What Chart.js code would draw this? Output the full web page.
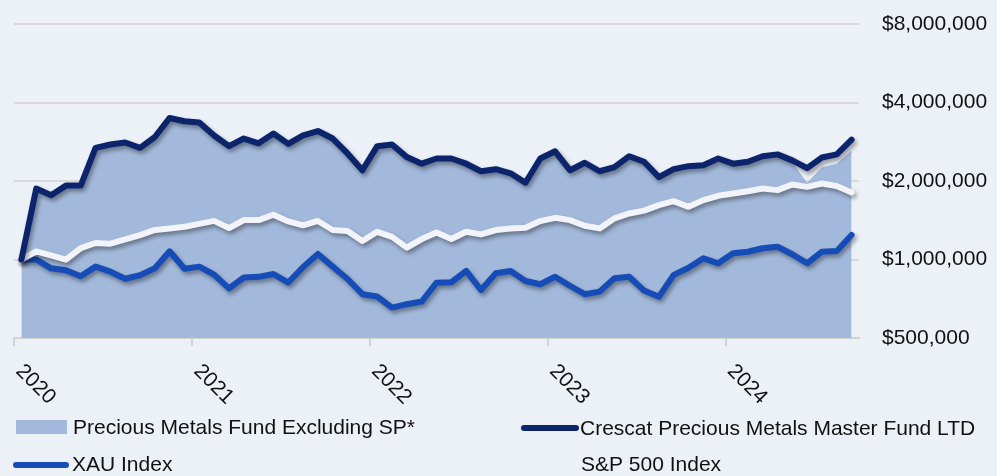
<!DOCTYPE html>
<html>
<head>
<meta charset="utf-8">
<script src="https://cdn.jsdelivr.net/npm/chart.js@4.4.1/dist/chart.umd.min.js"></script>
<style>
  html, body { margin: 0; padding: 0; background: #ECF0F7; }
</style>
</head>
<body>
<canvas id="grafico" width="997" height="476"></canvas>
<script>
  // Meses (jan/2020 a set/2024)
  const months = [
    "2020-01", "2020-02", "2020-03", "2020-04", "2020-05", "2020-06", "2020-07", "2020-08", "2020-09", "2020-10", "2020-11", "2020-12",
    "2021-01", "2021-02", "2021-03", "2021-04", "2021-05", "2021-06", "2021-07", "2021-08", "2021-09", "2021-10", "2021-11", "2021-12",
    "2022-01", "2022-02", "2022-03", "2022-04", "2022-05", "2022-06", "2022-07", "2022-08", "2022-09", "2022-10", "2022-11", "2022-12",
    "2023-01", "2023-02", "2023-03", "2023-04", "2023-05", "2023-06", "2023-07", "2023-08", "2023-09", "2023-10", "2023-11", "2023-12",
    "2024-01", "2024-02", "2024-03", "2024-04", "2024-05", "2024-06", "2024-07", "2024-08", "2024-09",
  ];

  const fundExSP = [
    1000000, 1870000, 1765000, 1920000, 1920000, 2680000, 2760000, 2810000, 2680000, 2950000, 3490000, 3390000,
    3350000, 2990000, 2720000, 2910000, 2790000, 3040000, 2775000, 2990000, 3110000, 2910000, 2550000, 2200000,
    2720000, 2760000, 2470000, 2330000, 2440000, 2440000, 2330000, 2180000, 2220000, 2140000, 1970000, 2440000,
    2600000, 2200000, 2350000, 2180000, 2260000, 2490000, 2370000, 2070000, 2220000, 2280000, 2300000, 2440000,
    2330000, 2370000, 2490000, 2500000, 2360000, 1970000, 2260000, 2330000, 2620000,
  ];

  const crescat = [
    1000000, 1870000, 1765000, 1920000, 1920000, 2680000, 2760000, 2810000, 2680000, 2950000, 3490000, 3390000,
    3350000, 2990000, 2720000, 2910000, 2790000, 3040000, 2775000, 2990000, 3110000, 2910000, 2550000, 2200000,
    2720000, 2760000, 2470000, 2330000, 2440000, 2440000, 2330000, 2180000, 2220000, 2140000, 1970000, 2440000,
    2600000, 2200000, 2350000, 2180000, 2260000, 2490000, 2370000, 2070000, 2220000, 2280000, 2300000, 2440000,
    2330000, 2370000, 2490000, 2530000, 2400000, 2240000, 2460000, 2530000, 2880000,
  ];

  const xau = [
    1000000, 1000000, 925000, 910000, 863000, 939000, 898000, 844000, 870000, 925000, 1075000, 922000,
    939000, 875000, 775000, 853000, 858000, 880000, 816000, 935000, 1050000, 939000, 842000, 736000,
    721000, 654000, 674000, 690000, 815000, 818000, 904000, 764000, 886000, 904000, 827000, 804000,
    859000, 793000, 736000, 753000, 847000, 859000, 760000, 720000, 873000, 930000, 1010000, 967000,
    1056000, 1071000, 1104000, 1119000, 1047000, 967000, 1071000, 1078000, 1241000,
  ];

  const sp500 = [
    1000000, 1075000, 1037000, 998000, 1105000, 1157000, 1150000, 1195000, 1241000, 1298000, 1315000, 1335000,
    1370000, 1406000, 1320000, 1416000, 1416000, 1485000, 1400000, 1352000, 1405000, 1297000, 1285000, 1177000,
    1277000, 1222000, 1110000, 1198000, 1270000, 1198000, 1277000, 1248000, 1297000, 1316000, 1323000, 1404000,
    1445000, 1416000, 1347000, 1316000, 1438000, 1502000, 1540000, 1616000, 1674000, 1592000, 1689000, 1755000,
    1792000, 1828000, 1872000, 1845000, 1940000, 1899000, 1957000, 1915000, 1808000,
  ];

  const yTicks = [500000, 1000000, 2000000, 4000000, 8000000];

  const nomes = [
    "Precious Metals Fund Excluding SP*",
    "Crescat Precious Metals Master Fund LTD",
    "XAU Index",
    "S&P 500 Index",
  ];

  const fonte = "'Liberation Sans', Arial, sans-serif";

  // Sombra nas linhas
  const sombra = {
    id: "sombra",
    beforeDatasetDraw(chart, args) {
      if (!chart.data.datasets[args.index].sombra) return;
      const ctx = chart.ctx;
      ctx.save();
      ctx.shadowColor = "rgba(0, 0, 0, 0.38)";
      ctx.shadowBlur = 4;
      ctx.shadowOffsetX = 2;
      ctx.shadowOffsetY = 3;
    },
    afterDatasetDraw(chart, args) {
      if (chart.data.datasets[args.index].sombra) chart.ctx.restore();
    },
  };

  // Anos inclinados embaixo do eixo
  const rotulosAno = {
    id: "rotulosAno",
    afterDraw(chart) {
      const ctx = chart.ctx;
      const x = chart.scales.x;
      const meio = (x.getPixelForValue(1) - x.getPixelForValue(0)) / 2;
      ctx.save();
      ctx.font = "21px " + fonte;
      ctx.fillStyle = "#111";
      ctx.textAlign = "left";
      ctx.textBaseline = "alphabetic";
      months.forEach((m, i) => {
        if (!m.endsWith("-01")) return;
        const px = x.getPixelForValue(i) - meio;
        ctx.save();
        ctx.translate(px + 1, x.top + 34);
        ctx.rotate(Math.PI / 4);
        ctx.fillText(m.slice(0, 4), 0, 0);
        ctx.restore();
      });
      ctx.restore();
    },
  };

  // Legenda em duas colunas
  const legenda = {
    id: "legenda",
    afterDraw(chart) {
      const ctx = chart.ctx;
      const lugares = [
        { x0: 16, x1: 67, tx: 73, y: 427, base: 434 },
        { x0: 524, x1: 576, tx: 580, y: 428, base: 435 },
        { x0: 16, x1: 66, tx: 72, y: 465, base: 471 },
        { x0: 526, x1: 576, tx: 581, y: 465, base: 471 },
      ];
      ctx.save();
      ctx.font = "21px " + fonte;
      ctx.textAlign = "left";
      ctx.textBaseline = "alphabetic";
      chart.data.datasets.forEach((ds, i) => {
        const p = lugares[i];
        if (ds.fill) {
          ctx.fillStyle = ds.backgroundColor;
          ctx.fillRect(p.x0, p.y - 7, p.x1 - p.x0, 14);
        } else if (!ds.semAmostra) {
          ctx.strokeStyle = ds.borderColor;
          ctx.lineWidth = 6;
          ctx.lineCap = "round";
          ctx.beginPath();
          ctx.moveTo(p.x0, p.y);
          ctx.lineTo(p.x1, p.y);
          ctx.stroke();
        }
        ctx.fillStyle = "#111";
        ctx.fillText(ds.label, p.tx, p.base);
      });
      ctx.restore();
    },
  };

  const dados = {
    labels: months,
    datasets: [
      {
        label: nomes[0],
        data: fundExSP,
        fill: "start",
        backgroundColor: "#A3B9DB",
        borderWidth: 0,
        pointRadius: 0,
        order: 10,
      },
      {
        label: nomes[1],
        data: crescat,
        borderColor: "#0B246B",
        borderWidth: 6,
        pointRadius: 0,
        borderJoinStyle: "round",
        borderCapStyle: "round",
        sombra: true,
        order: 0,
      },
      {
        label: nomes[2],
        data: xau,
        borderColor: "#164CB8",
        borderWidth: 6,
        pointRadius: 0,
        borderJoinStyle: "round",
        borderCapStyle: "round",
        sombra: true,
        order: 2,
      },
      {
        label: nomes[3],
        data: sp500,
        borderColor: "#F2F4F9",
        borderWidth: 6,
        pointRadius: 0,
        borderJoinStyle: "round",
        borderCapStyle: "round",
        sombra: true,
        semAmostra: true,
        order: 1,
      },
    ],
  };

  const config = {
    type: "line",
    data: dados,
    options: {
      responsive: false,
      animation: false,
      layout: { padding: { left: 14, top: 24, right: 0, bottom: 0 } },
      plugins: {
        legend: { display: false },
        tooltip: { enabled: false },
      },
      scales: {
        x: {
          type: "category",
          offset: true,
          grid: {
            offset: true,
            drawOnChartArea: false,
            drawTicks: true,
            tickLength: 8,
            lineWidth: 2,
            color: (c) => (months[c.index] && months[c.index].endsWith("-01") ? "#D3D3D3" : "rgba(0,0,0,0)"),
          },
          border: { display: true, color: "#D3D3D3", width: 2 },
          ticks: { display: false, autoSkip: false },
          afterFit(scale) {
            scale.height = 476 - 338;
          },
        },
        y: {
          type: "logarithmic",
          position: "right",
          min: 500000,
          max: 8000000,
          afterBuildTicks(scale) {
            scale.ticks = yTicks.map((v) => ({ value: v }));
          },
          afterFit(scale) {
            scale.width = 997 - 859;
            scale.paddingTop = 0;
            scale.paddingBottom = 0;
          },
          grid: { color: "#D9D9D9", lineWidth: 2, drawTicks: false },
          border: { display: false },
          ticks: {
            padding: 23,
            color: "#111",
            font: { family: fonte, size: 21 },
            callback: (v) => "$" + Number(v).toLocaleString("en-US"),
          },
        },
      },
    },
    plugins: [sombra, rotulosAno, legenda],
  };

  const grafico = new Chart(document.getElementById("grafico"), config);
</script>
</body>
</html>
